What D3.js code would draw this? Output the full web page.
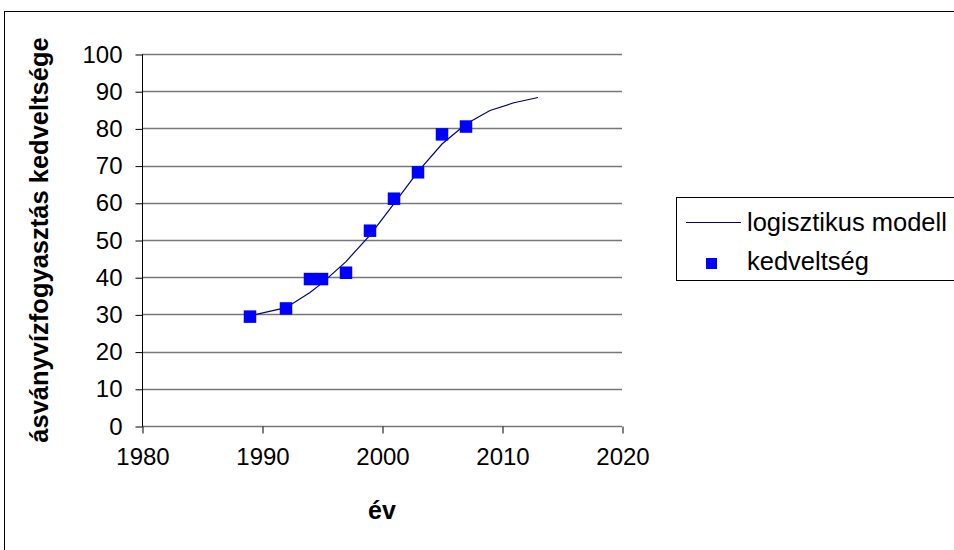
<!DOCTYPE html>
<html>
<head>
<meta charset="utf-8">
<script src="https://cdn.jsdelivr.net/npm/d3@7"></script>
<style>
  html, body { margin: 0; padding: 0; background: #fff; }
  svg { display: block; font-family: "Liberation Sans", Arial, sans-serif; }
</style>
</head>
<body>
<svg id="chart" width="954" height="550"></svg>
<script>
// Observed popularity (%) of mineral water consumption by year
const obsYears = [1989, 1992, 1994, 1995, 1997, 1999, 2001, 2003, 2005, 2007];
const obsValues = [29.4, 31.6, 39.5, 39.5, 41.2, 52.5, 61.1, 68.2, 78.4, 80.5];

// Fitted logistic model, including the extrapolated years
const modelYears = [1989, 1992, 1994, 1995, 1997, 1999, 2001, 2003, 2005, 2007, 2009, 2011, 2013];
const modelValues = [29.6, 31.8, 35.9, 38.4, 44.2, 51.3, 59.8, 68.4, 75.8, 81.2, 84.8, 86.9, 88.3];

const xTicks = [1980, 1990, 2000, 2010, 2020];
const yTicks = [0, 10, 20, 30, 40, 50, 60, 70, 80, 90, 100];

const seriesNames = ["logisztikus modell", "kedveltség"];
const xTitle = "év";
const yTitle = "ásványvízfogyasztás kedveltsége";

const svg = d3.select("#chart");

// Outer chart frame
svg.append("rect")
  .attr("x", 4.5).attr("y", 11.5)
  .attr("width", 1000).attr("height", 600)
  .attr("fill", "#fff").attr("stroke", "#000").attr("stroke-width", 1);

const x = d3.scaleLinear().domain([1980, 2020]).range([142, 622]);
const y = d3.scaleLinear().domain([0, 100]).range([426, 54]);

// Horizontal gridlines
svg.append("g")
  .selectAll("line")
  .data(yTicks)
  .join("line")
  .attr("x1", x(1980)).attr("x2", x(2020))
  .attr("y1", d => Math.round(y(d)) + 0.5)
  .attr("y2", d => Math.round(y(d)) + 0.5)
  .attr("stroke", "#777")
  .attr("stroke-width", d => d === 0 ? 1.6 : 1.3);

// Y axis
const yAxis = svg.append("g")
  .attr("transform", `translate(${x(1980) + 0.5},0.5)`)
  .call(d3.axisLeft(y).tickValues(yTicks).tickSize(7).tickPadding(13).tickFormat(d3.format("d")));
yAxis.select(".domain").attr("stroke", "#000").attr("d", `M0,${y(100)}V${y(0)}`);
yAxis.selectAll(".tick line").attr("stroke", "#000");
yAxis.selectAll(".tick text")
  .attr("font-size", 24).attr("fill", "#000")
  .attr("font-family", "'Liberation Sans', Arial, sans-serif");

// X axis
const xAxis = svg.append("g")
  .attr("transform", `translate(0.5,${Math.round(y(0)) + 0.5})`)
  .call(d3.axisBottom(x).tickValues(xTicks).tickSize(7).tickPadding(14).tickFormat(d3.format("d")));
xAxis.select(".domain").remove();
xAxis.selectAll(".tick line").attr("stroke", "#000");
xAxis.selectAll(".tick text")
  .attr("font-size", 24).attr("fill", "#000")
  .attr("font-family", "'Liberation Sans', Arial, sans-serif");

// Model curve
const line = d3.line()
  .x((d, i) => x(modelYears[i]))
  .y(d => y(d));
svg.append("path")
  .datum(modelValues)
  .attr("d", line)
  .attr("fill", "none")
  .attr("stroke", "#000080")
  .attr("stroke-width", 1.2);

// Observed points
const ms = 12.5;
svg.append("g")
  .selectAll("rect")
  .data(obsValues)
  .join("rect")
  .attr("x", (d, i) => x(obsYears[i]) - ms / 2)
  .attr("y", d => y(d) - ms / 2)
  .attr("width", ms).attr("height", ms)
  .attr("fill", "#0000ff");

// Axis titles
svg.append("text")
  .attr("x", (x(1980) + x(2020)) / 2)
  .attr("y", 519)
  .attr("text-anchor", "middle")
  .attr("font-size", 25).attr("font-weight", "bold")
  .text(xTitle);

svg.append("text")
  .attr("transform", `translate(48,${(y(0) + y(100)) / 2}) rotate(-90)`)
  .attr("text-anchor", "middle")
  .attr("font-size", 25.5).attr("font-weight", "bold")
  .text(yTitle);

// Legend
const lg = svg.append("g");
lg.append("rect")
  .attr("x", 676.5).attr("y", 197.5)
  .attr("width", 400).attr("height", 83)
  .attr("fill", "#fff").attr("stroke", "#000").attr("stroke-width", 1);
lg.append("line")
  .attr("x1", 686).attr("x2", 741)
  .attr("y1", 222.5).attr("y2", 222.5)
  .attr("stroke", "#000080").attr("stroke-width", 1.2);
lg.append("text")
  .attr("x", 747).attr("y", 231)
  .attr("font-size", 25.5)
  .text(seriesNames[0]);
lg.append("rect")
  .attr("x", 706).attr("y", 258)
  .attr("width", 11).attr("height", 11)
  .attr("fill", "#0000ff");
lg.append("text")
  .attr("x", 747).attr("y", 270)
  .attr("font-size", 25.5)
  .text(seriesNames[1]);
</script>
</body>
</html>
